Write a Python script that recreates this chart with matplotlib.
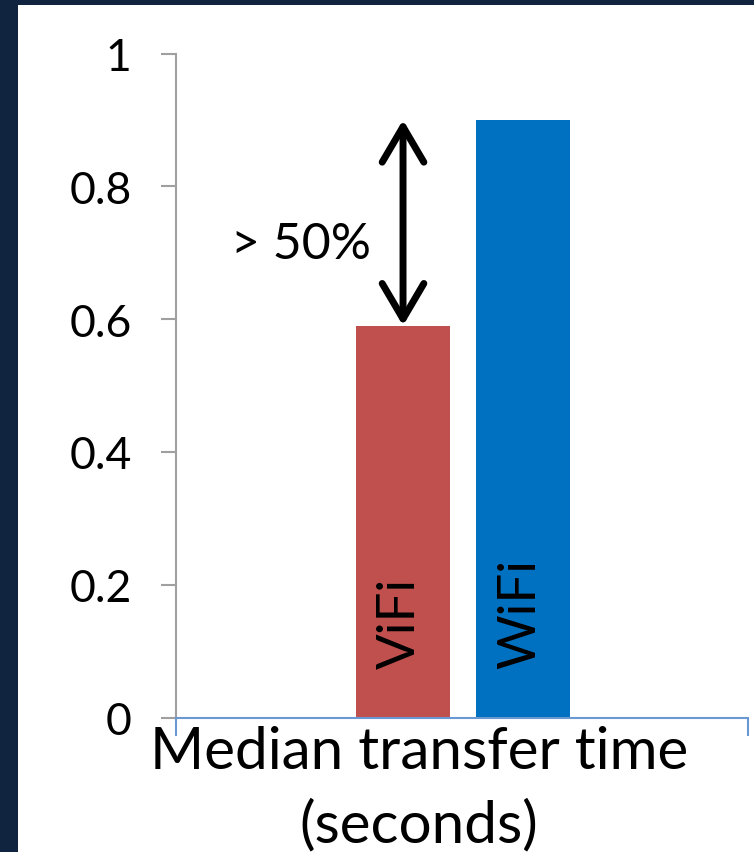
import matplotlib
matplotlib.use("Agg")
import matplotlib.pyplot as plt
from matplotlib.patches import Rectangle

# bar data
systems = ["ViFi", "WiFi"]
median_time = [0.59, 0.9]
bar_colors = ["#C0504D", "#0070C0"]
ytick_vals = [0, 0.2, 0.4, 0.6, 0.8, 1.0]
ytick_labels = ["0", "0.2", "0.4", "0.6", "0.8", "1"]
gap_label = "> 50%"
xlabel_text = "Median transfer time\n(seconds)"

plt.rcParams["font.family"] = ["Lato", "DejaVu Sans"]

W, H = 754, 853
fig = plt.figure(figsize=(W / 100, H / 100), dpi=100, facecolor="#10243F")
# white slide area, navy strip on left and top
fig.patches.append(Rectangle((18 / W, 0), 1 - 18 / W, 1 - 6 / H, transform=fig.transFigure,
                             facecolor="white", edgecolor="none", zorder=-10))

ax = fig.add_axes([176 / W, 1 - 718.5 / H, (748 - 176) / W, (718.5 - 54.5) / H])
ax.set_facecolor("none")

xpos = list(range(len(systems)))
ax.bar(xpos, median_time, width=0.783, color=bar_colors, zorder=2)

ax.set_xlim(-1.892, 2.875)
ax.set_ylim(0, 1)

# rotated series names inside the bars
for x, name in zip(xpos, systems):
    ax.text(x - 0.02, 0.075, name, rotation=90, ha="center", va="bottom",
            fontsize=38, color="black", zorder=3)

# double arrow showing the gap between the two bars
ax.annotate("", xy=(xpos[0], median_time[1]), xytext=(xpos[0], median_time[0]),
            arrowprops=dict(arrowstyle="<->,head_length=0.85,head_width=0.5",
                            mutation_scale=30, lw=5, color="black",
                            shrinkA=0, shrinkB=0, capstyle="round",
                            joinstyle="round"), zorder=4)
ax.text(-0.85, 0.713, gap_label, ha="center", va="center", fontsize=36, color="black")

# axes styling
for s in ["top", "right"]:
    ax.spines[s].set_visible(False)
ax.spines["left"].set_color("#A0A0A0")
ax.spines["left"].set_linewidth(1.5)
ax.spines["bottom"].set_color("#6A98D2")
ax.spines["bottom"].set_linewidth(1.5)
ax.spines["bottom"].set_zorder(5)

ax.set_yticks(ytick_vals)
ax.set_yticklabels(ytick_labels)
ax.tick_params(axis="y", direction="out", length=11, width=1.5, color="#A0A0A0",
               pad=21, labelsize=32, labelcolor="black")
ax.set_xticks([-1.892, 2.875])
ax.set_xticklabels(["", ""])
ax.tick_params(axis="x", direction="out", length=13, width=1.5, color="#6A98D2")

fig.text(419 / W, 1 - 726 / H, xlabel_text, ha="center", va="top", fontsize=42,
         color="black", linespacing=1.45)

fig.savefig("out.png", dpi=100, facecolor=fig.get_facecolor())
